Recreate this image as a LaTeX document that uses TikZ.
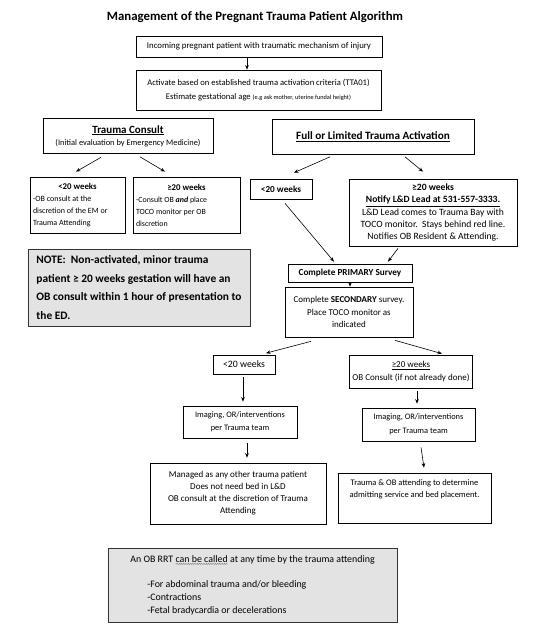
\documentclass[tikz,border=0pt]{standalone}
\usepackage{fontspec}
\setmainfont{Carlito}
\usetikzlibrary{arrows.meta,calc,decorations.pathmorphing}
\newcommand\wavyul[1]{\tikz[baseline=(w.base)]{\node[inner sep=0pt,outer sep=0pt,minimum width=0pt,minimum height=0pt,draw=none,fill=none,anchor=base](w){#1};\draw[black!55,line width=0.35pt,decorate,decoration={snake,amplitude=0.5pt,segment length=1.8pt}] ([yshift=-1.3pt]w.base west)--([yshift=-1.3pt]w.base east);}}
\begin{document}
\begin{tikzpicture}[x=1pt,y=-1pt,
  box/.style={draw=black,line width=0.7pt,inner xsep=3pt,inner ysep=2pt,align=center,font=\fontsize{8}{12}\selectfont},
  lbox/.style={box,align=left},
  graybox/.style={box,fill=gray!22,draw=black!80},
  arr/.style={-{Stealth[length=4.5pt,width=3.6pt]},line width=0.6pt},
]
\useasboundingbox (0,0) rectangle (536,643);
\fill[white] (0,0) rectangle (536,643);

\node[font=\fontsize{12.8}{15}\selectfont\bfseries] (title) at (255,17) {Management of the Pregnant Trauma Patient Algorithm};

\node[box,minimum width=246pt,minimum height=21pt,font=\fontsize{8.8}{12}\selectfont] (box1) at (259,46.5) {Incoming pregnant patient with traumatic mechanism of injury};

\node[box,minimum width=245pt,minimum height=40pt,font=\fontsize{8.6}{14.5}\selectfont] (box2) at (258.5,90) {Activate based on established trauma activation criteria (TTA01)\\Estimate gestational age {\fontsize{6.3}{7}\selectfont (e.g ask mother, uterine fundal height)}};

\node[box,minimum width=170pt,minimum height=35pt] (tc) at (128,136) {{\fontsize{11}{12}\selectfont\bfseries\underline{Trauma Consult}}\\[0pt]{\fontsize{8.4}{10}\selectfont (Initial evaluation by Emergency Medicine)}};

\node[box,minimum width=202pt,minimum height=35pt,font=\fontsize{11.2}{13}\selectfont\bfseries] (fl) at (373,137) {\underline{Full or Limited Trauma Activation}};

\node[lbox,minimum width=95pt,minimum height=56pt,font=\fontsize{8}{12}\selectfont] (l20) at (77.5,205) {\makebox[89pt]{\fontsize{8.8}{12}\selectfont\bfseries <20 weeks}\\-OB consult at the\\discretion of the EM or\\Trauma Attending};

\node[lbox,minimum width=107pt,minimum height=56pt,font=\fontsize{7.9}{12}\selectfont] (g20) at (186.5,205) {\makebox[101pt]{\fontsize{8.8}{12}\selectfont\bfseries ≥20 weeks}\\-Consult OB \textbf{\textit{and}} place\\TOCO monitor per OB\\discretion};

\node[box,minimum width=62pt,minimum height=20pt,font=\fontsize{9.2}{12}\selectfont\bfseries] (r20) at (281,189) {<20 weeks};

\node[box,minimum width=168pt,minimum height=67pt,inner xsep=1pt,font=\fontsize{9.6}{12.2}\selectfont] (rg20) at (433,212.5) {\textbf{≥20 weeks}\\\textbf{\underline{Notify L\&D Lead at 531-557-3333.}}\\L\&D Lead comes to Trauma Bay with\\TOCO monitor.\ \ Stays behind red line.\\Notifies OB Resident \& Attending.};

\node[graybox,align=left,minimum width=222pt,minimum height=77pt,inner xsep=2pt,font=\fontsize{11.4}{18.8}\selectfont\bfseries] (note) at (139,287.5) {NOTE:\ \ Non-activated, minor trauma\\patient ≥ 20 weeks gestation will have an\\OB consult within 1 hour of presentation to\\the ED.};

\node[box,minimum width=124pt,minimum height=18pt,font=\fontsize{9.2}{12}\selectfont\bfseries] (prim) at (350,273) {Complete PRIMARY Survey};

\node[box,minimum width=128pt,minimum height=50pt,font=\fontsize{9}{12.3}\selectfont] (sec) at (349,312) {Complete \textbf{SECONDARY} survey.\\Place TOCO monitor as\\indicated};

\node[box,minimum width=62pt,minimum height=19pt,font=\fontsize{9.8}{12}\selectfont] (b20) at (244,364.5) {<20 weeks};

\node[box,minimum width=122pt,minimum height=33pt,font=\fontsize{9}{13}\selectfont] (bg20) at (411,371.5) {\underline{≥20 weeks}\\OB Consult (if not already done)};

\node[box,minimum width=114pt,minimum height=32pt,font=\fontsize{8.4}{13.5}\selectfont] (img1) at (240,422) {Imaging, OR/interventions\\per Trauma team};

\node[box,minimum width=113pt,minimum height=33pt,font=\fontsize{8.4}{13.5}\selectfont] (img2) at (418.5,424.5) {Imaging, OR/interventions\\per Trauma team};

\node[box,minimum width=176pt,minimum height=61pt,font=\fontsize{9}{12}\selectfont] (man) at (238,493.5) {Managed as any other trauma patient\\Does not need bed in L\&D\\OB consult at the discretion of Trauma\\Attending};

\node[box,minimum width=153pt,minimum height=50pt,font=\fontsize{8.5}{12.5}\selectfont] (toa) at (414.5,498) {Trauma \& OB attending to determine\\admitting service and bed placement.\\[6pt]\mbox{}};

\node[graybox,align=left,minimum width=289pt,minimum height=74pt,font=\fontsize{9.9}{13}\selectfont] (rrt) at (252.5,585.5) {An OB RRT \wavyul{can be called} at any time by the trauma attending\\[12pt]\hspace*{17pt}-For abdominal trauma and/or bleeding\\\hspace*{17pt}-Contractions\\\hspace*{17pt}-Fetal bradycardia or decelerations};

% connectors
\draw[arr] ($(box1.south)+(-12,0)$) -- ($(box2.north)+(-11.5,0)$);
\draw[arr] ($(tc.south)+(-27,3.5)$) -- ($(l20.north)+(-1.5,-5)$);
\draw[arr] ($(tc.south)+(12,3)$) -- ($(g20.north)+(-21.5,-5)$);
\draw[arr] ($(fl.south)+(-43,2)$) -- ($(r20.north)+(13,-6)$);
\draw[arr] ($(fl.south)+(32,2)$) -- ($(rg20.north)+(-10,-7)$);
\draw[arr] ($(r20.south)+(4,4)$) -- ($(prim.north)+(-16,-2)$);
\draw[arr] ($(rg20.south)+(-35,2)$) -- ($(prim.north)+(38,-2)$);
\draw[arr] (prim.south) -- (prim.south |- sec.north);
\draw[arr] ($(sec.south)+(-38,4)$) -- ($(b20.north)+(22,-1.5)$);
\draw[arr] ($(sec.south)+(46,3)$) -- ($(bg20.north)+(31,-1)$);
\draw[arr] ($(b20.south)+(-1,3)$) -- ($(img1.north)+(3,-4)$);
\draw[arr] ($(bg20.south)+(6,3)$) -- ($(img2.north)+(-1.5,-4)$);
\draw[arr] ($(img1.south)+(7,5)$) -- ($(man.north)+(9,-5)$);
\draw[arr] ($(img2.south)+(2.5,6)$) -- ($(toa.north)+(9.5,-5)$);
\end{tikzpicture}
\end{document}
